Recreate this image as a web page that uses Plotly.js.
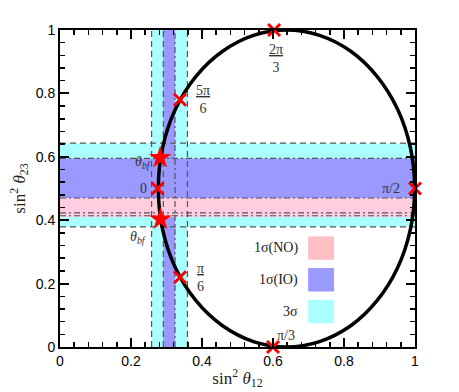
<!DOCTYPE html>
<html><head><meta charset="utf-8">
<script src="https://cdn.plot.ly/plotly-3.0.1.min.js"></script>
<style>body{margin:0;background:#fff;}</style>
</head><body>
<div id="chart" style="width:459px;height:392px;"></div>
<script>
// Ellipse curve
const ellipseX = [0.999, 0.987, 0.951, 0.893, 0.819, 0.731, 0.638, 0.545, 0.458, 0.383, 0.325, 0.289, 0.277,
                  0.289, 0.325, 0.383, 0.458, 0.545, 0.638, 0.731, 0.819, 0.893, 0.951, 0.987, 0.999];
const ellipseY = [0.500, 0.629, 0.750, 0.854, 0.933, 0.983, 1.000, 0.983, 0.933, 0.854, 0.750, 0.629, 0.500,
                  0.371, 0.250, 0.146, 0.067, 0.017, 0.000, 0.017, 0.067, 0.146, 0.250, 0.371, 0.500];
// Red crosses
const crossX = [0.275, 0.338, 0.338, 0.603, 0.600, 1.000];
const crossY = [0.500, 0.780, 0.220, 1.000, 0.000, 0.500];
const crossLabels = ['0', '<u>5π</u><br>6', '<u>π</u><br>6', '<u>2π</u><br>3', 'π/3', 'π/2'];
// Red stars (best fit)
const starX = [0.282, 0.283];
const starY = [0.597, 0.403];
const starLabels = ['θ<sub>bf</sub>', 'θ<sub>bf</sub>'];
// Allowed regions
const x3sigma = [0.258, 0.359];
const x1sigmaIO = [0.291, 0.324];
const y3sigma = [0.379, 0.643];
const y1sigmaIO = [0.470, 0.595];
const y1sigmaNO = [0.410, 0.470];
const dashX = [0.258, 0.291, 0.359];
const dashDotX = [0.324];
const dashY = [0.643, 0.379];
const dashDotY = [0.595, 0.470, 0.423, 0.414];
// Legend
const legendLabels = ['1σ(NO)', '1σ(IO)', '3σ'];
const legendColors = ['#ffc0c4', '#9999ff', '#aaffff'];
const legendY = [0.312, 0.212, 0.112];

const cyan = '#aaffff', blue = '#9999ff', pink = '#ffcce0';
const lineCol = '#555555';
const shapes = [];
function rect(x0,x1,y0,y1,c){shapes.push({type:'rect',xref:'x',yref:'y',x0,x1,y0,y1,fillcolor:c,line:{width:0},layer:'below'});}
rect(x3sigma[0],x3sigma[1],0,1,cyan);
rect(0,1,y3sigma[0],y3sigma[1],cyan);
rect(x1sigmaIO[0],x1sigmaIO[1],0,1,blue);
rect(0,1,y1sigmaIO[0],y1sigmaIO[1],blue);
rect(0,1,y1sigmaNO[0],y1sigmaNO[1],pink);
function vline(x,d){shapes.push({type:'line',xref:'x',yref:'y',x0:x,x1:x,y0:0,y1:1,line:{color:lineCol,width:1.2,dash:d},layer:'below'});}
function hline(y,d){shapes.push({type:'line',xref:'x',yref:'y',x0:0,x1:1,y0:y,y1:y,line:{color:lineCol,width:1.2,dash:d},layer:'below'});}
dashX.forEach(x=>vline(x,'6px,4px'));
dashDotX.forEach(x=>vline(x,'6px,3px,2px,3px'));
dashY.forEach(y=>hline(y,'6px,4px'));
dashDotY.forEach(y=>hline(y,'6px,3px,2px,3px'));
// legend boxes
const boxX = [0.699, 0.772];
legendY.forEach((y,i)=>{shapes.push({type:'rect',xref:'x',yref:'y',x0:boxX[0],x1:boxX[1],y0:y-0.037,y1:y+0.037,fillcolor:legendColors[i],line:{width:0}});});

const lblFont = {family:'Liberation Serif, DejaVu Serif, serif', size:14, color:'#333'};
const annotations = [];
const crossShift = [[-9,0,'right'],[23,0,'center'],[21,0,'center'],[2,-28,'center'],[13,12,'center'],[-13,0,'right']];
crossX.forEach((x,i)=>{
  annotations.push({x, y:crossY[i], xref:'x', yref:'y', text:crossLabels[i], showarrow:false,
    xanchor:crossShift[i][2], yanchor:'middle', xshift:crossShift[i][0], yshift:crossShift[i][1], font:lblFont});
});
const starShift = [[-7,-5],[-12,-18]];
starX.forEach((x,i)=>{
  annotations.push({x, y:starY[i], xref:'x', yref:'y', text:'<i>'+starLabels[i]+'</i>', showarrow:false,
    xanchor:'right', yanchor:'middle', xshift:starShift[i][0], yshift:starShift[i][1], font:lblFont});
});
legendLabels.forEach((t,i)=>{
  annotations.push({x:0.675, y:legendY[i], xref:'x', yref:'y', text:t, showarrow:false,
    xanchor:'right', yanchor:'middle', font:{family:'Liberation Serif, DejaVu Serif, serif', size:14, color:'#222'}});
});

const traces = [
  {x:ellipseX, y:ellipseY, mode:'lines', line:{color:'black', width:3.5, shape:'spline', smoothing:1}, hoverinfo:'skip', cliponaxis:false},
  {x:crossX, y:crossY, mode:'markers', marker:{symbol:'x-thin', size:12, line:{color:'#ff0000', width:3}}, cliponaxis:false},
  {x:starX, y:starY, mode:'markers', marker:{symbol:'star', size:17, color:'#ff0000', line:{width:0}}, cliponaxis:false}
];

const axisCommon = {
  range:[0,1], showgrid:false, zeroline:false, showline:true, linecolor:'black', linewidth:2,
  ticks:'inside', ticklen:9, tickwidth:2, tickcolor:'black', mirror:'ticks', dtick:0.2, tick0:0,
  minor:{dtick:0.04, ticks:'inside', ticklen:5, tickwidth:1.5, tickcolor:'black', showgrid:false},
  tickfont:{family:'Liberation Sans, Arial, sans-serif', size:14, color:'black'}
};
const layout = {
  width:459, height:392, margin:{l:60, r:44, t:30, b:45},
  paper_bgcolor:'white', plot_bgcolor:'white', showlegend:false,
  xaxis:Object.assign({}, axisCommon, {title:{text:'sin<sup>2</sup> <i>θ</i><sub>12</sub>', font:{family:'Liberation Serif, DejaVu Serif, serif', size:17, color:'#222'}, standoff:4}}),
  yaxis:Object.assign({}, axisCommon, {title:{text:'sin<sup>2</sup> <i>θ</i><sub>23</sub>', font:{family:'Liberation Serif, DejaVu Serif, serif', size:17, color:'#222'}, standoff:6}}),
  shapes, annotations
};
Plotly.newPlot('chart', traces, layout, {displayModeBar:false, staticPlot:true});
</script>
</body></html>
